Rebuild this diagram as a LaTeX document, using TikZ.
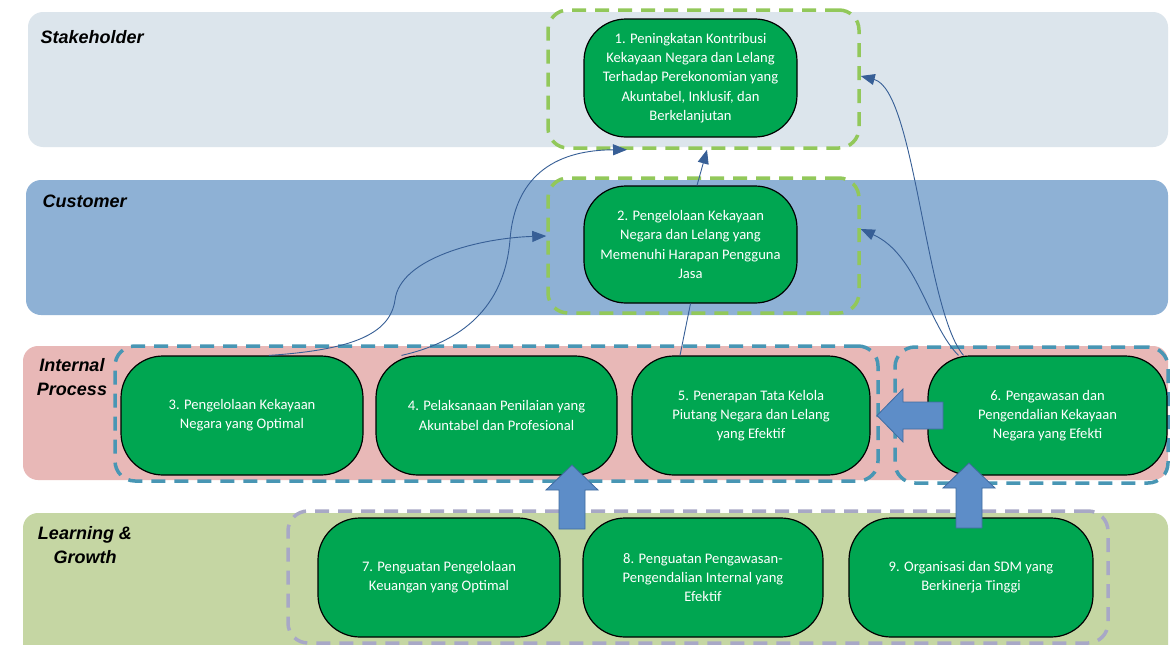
\documentclass[tikz,border=0pt]{standalone}
\usepackage{fontspec}
\setmainfont{Carlito}
\newfontfamily\labelfont{Liberation Sans}
\usetikzlibrary{calc,arrows.meta}
\definecolor{bandstake}{RGB}{220,229,236}
\definecolor{bandcust}{RGB}{142,177,213}
\definecolor{bandproc}{RGB}{232,184,183}
\definecolor{bandlearn}{RGB}{197,214,163}
\definecolor{goalgreen}{RGB}{0,166,81}
\definecolor{grpgreen}{RGB}{146,200,90}
\definecolor{grpteal}{RGB}{72,150,180}
\definecolor{grplav}{RGB}{168,168,198}
\definecolor{linkblue}{RGB}{55,95,150}
\definecolor{arrowfill}{RGB}{93,141,200}
\definecolor{arrowedge}{RGB}{64,108,160}
\tikzset{
  band/.style={rounded corners=15pt},
  goal/.style={draw=black, line width=1.2pt, fill=goalgreen, rounded corners=42pt,
    text=white, align=center, inner sep=0pt, font=\fontsize{14.6}{19.3}\selectfont},
  grp/.style={line width=3.5pt, dash pattern=on 14pt off 9pt, rounded corners=20pt, inner sep=0pt},
  perspective/.style={font=\labelfont\bfseries\itshape\fontsize{18}{24}\selectfont, align=center},
  link/.style={draw=linkblue, line width=0.9pt, -{Triangle[length=14pt,width=11pt]}},
  linkline/.style={draw=linkblue, line width=0.9pt},
  bigarrow/.style={fill=arrowfill, draw=arrowedge, line width=0.8pt}
}

\begin{document}
\begin{tikzpicture}[x=1pt, y=-1pt]
  \useasboundingbox (0,0) rectangle (1170,645);
  \fill[white] (0,0) rectangle (1170,645);

  % perspective bands
  \fill[band, bandstake] (28,12) rectangle (1168,147);
  \fill[band, bandcust] (26,180) rectangle (1168,315);
  \fill[band, bandproc] (23,346) rectangle (1168,480);
  \fill[band, bandlearn] (23,513) rectangle (1168,670);

  \node[perspective, anchor=west] (lblS) at (37,37) {Stakeholder};
  \node[perspective, anchor=west] (lblC) at (39,201) {Customer};
  \node[perspective] (lblI) at (72,377) {Internal\\Process};
  \node[perspective] (lblL) at (85,545) {Learning \&\\Growth};

  % dashed groups
  \node[grp, draw=grpgreen, minimum width=311pt, minimum height=138pt] (grp1) at (703.5,79) {};
  \node[grp, draw=grpgreen, minimum width=311pt, minimum height=135pt] (grp2) at (703.5,245.5) {};
  \node[grp, draw=grpteal, minimum width=763pt, minimum height=135pt] (grpA) at (496.5,413.5) {};
  \node[grp, draw=grpteal, minimum width=273pt, minimum height=136pt] (grpB) at (1031.5,415) {};
  \node[grp, draw=grplav, minimum width=820pt, minimum height=132pt] (grpC) at (698,577) {};

  % objectives
  \node[goal, minimum width=213pt, minimum height=118pt] (n1) at (690.5,78)
    {1. Peningkatan Kontribusi\\Kekayaan Negara dan Lelang\\Terhadap Perekonomian yang\\Akuntabel, Inklusif, dan\\Berkelanjutan};
  \node[goal, minimum width=213pt, minimum height=117pt] (n2) at (690.5,244.5)
    {2. Pengelolaan Kekayaan\\Negara dan Lelang yang\\Memenuhi Harapan Pengguna\\Jasa};
  \node[goal, minimum width=242pt, minimum height=119pt] (n3) at (242,415.5)
    {3. Pengelolaan Kekayaan\\Negara yang Optimal};
  \node[goal, minimum width=241pt, minimum height=119pt] (n4) at (496.5,415.5)
    {4. Pelaksanaan Penilaian yang\\Akuntabel dan Profesional};
  \node[goal, minimum width=238pt, minimum height=119pt] (n5) at (751,415.5)
    {5. Penerapan Tata Kelola\\Piutang Negara dan Lelang\\yang Efektif};
  \node[goal, minimum width=239pt, minimum height=119pt] (n6) at (1047.5,415.5)
    {6. Pengawasan dan\\Pengendalian Kekayaan\\Negara yang Efekti};
  \node[goal, minimum width=242pt, minimum height=119pt] (n7) at (439,577.5)
    {7. Penguatan Pengelolaan\\Keuangan yang Optimal};
  \node[goal, minimum width=240pt, minimum height=119pt] (n8) at (703,577.5)
    {8. Penguatan Pengawasan-\\Pengendalian Internal yang\\Efektif};
  \node[goal, minimum width=244pt, minimum height=119pt] (n9) at (971,577.5)
    {9. Organisasi dan SDM yang\\Berkinerja Tinggi};

  % thin links
  \draw[link] ($(n3.north)+(27,0)$) .. controls (350,350) and (390,335) .. (395,300)
    .. controls (400,258) and (480,238) .. ($(grp2.west)+(0,-9.5)$);
  \draw[link] ($(n4.north)+(-95,0)$) .. controls (470,340) and (505,300) .. (510,240)
    .. controls (515,172) and (560,150) .. ($(grp1.south)+(-76.5,0)$);
  \draw[linkline] ($(n5.north)+(-71,0)$) -- (n2.south);
  \draw[link] ($(n2.north)+(6.5,0)$) -- ($(grp1.south)+(3.5,0)$);
  \draw[link] ($(n6.north)+(-84,0)$) .. controls (925,310) and (915,90) .. ($(grp1.east)+(0,-3)$);
  \draw[link] ($(n6.north)+(-89,0)$) .. controls (928,325) and (918,255) .. ($(grp2.east)+(0,-16.5)$);

  % block arrows
  \draw[bigarrow] (559,529) -- (559,490) -- (546,490) -- (572,465) -- (598,490) -- (585,490) -- (585,529) -- cycle;
  \draw[bigarrow] (943,402) -- (903,402) -- (903,389) -- (877,415.5) -- (903,442) -- (903,429) -- (943,429) -- cycle;
  \draw[bigarrow] (956,528) -- (956,488) -- (943,488) -- (969,463) -- (995,488) -- (982,488) -- (982,528) -- cycle;
\end{tikzpicture}
\end{document}
